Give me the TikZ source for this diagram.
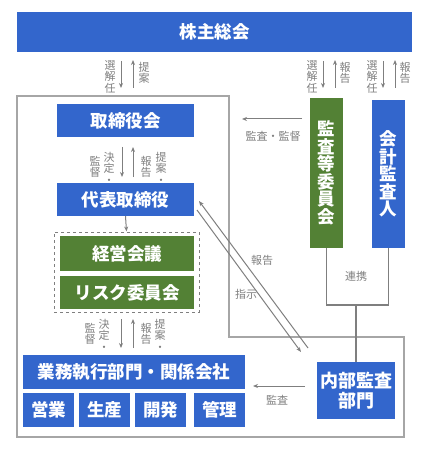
\documentclass[tikz,border=0pt]{standalone}
\usepackage{fontspec}
\setmainfont{Noto Sans CJK JP}
\usetikzlibrary{arrows.meta}
\definecolor{cblue}{HTML}{3366CC}
\definecolor{cgreen}{HTML}{538135}
\definecolor{cline}{HTML}{A6A6A6}
\definecolor{carrow}{HTML}{7F7F7F}
\definecolor{clabel}{HTML}{7F7F7F}
\begin{document}
\begin{tikzpicture}[x=1pt,y=-1pt,
 box/.style={draw=none, inner sep=0pt, text=white, font=\fontsize{17.5}{17.5}\selectfont\bfseries, align=center},
 bluebox/.style={box, fill=cblue},
 greenbox/.style={box, fill=cgreen},
 lbl/.style={inner sep=0pt, text=clabel, font=\fontsize{11}{11.5}\selectfont, align=center},
 arr/.style={draw=carrow, line width=1pt, -{Stealth[length=5pt,width=4pt]}},
 frame/.style={draw=cline, line width=1.2pt},
 link/.style={draw=carrow, line width=1.5pt}
]
\useasboundingbox (0,0) rectangle (435,449);

% outer frame
\draw[frame] (17,96) -- (229,96) -- (229,337) -- (404,337) -- (404,437) -- (17,437) -- cycle;

% boxes
\node[bluebox, minimum width=395pt, minimum height=40pt] (kabu) at (214.5,32) {株主総会};
\node[bluebox, minimum width=137pt, minimum height=33pt] (tori) at (125.5,120.5) {取締役会};
\node[bluebox, minimum width=137pt, minimum height=33pt] (daihyo) at (125.5,199.5) {代表取締役};
\node[draw=carrow, dashed, line width=1pt, minimum width=145pt, minimum height=80pt, inner sep=0pt] (grp) at (126.5,272) {};
\node[greenbox, minimum width=134pt, minimum height=35pt] (keiei) at (127,253.5) {経営会議};
\node[greenbox, minimum width=134pt, minimum height=33pt] (risk) at (127,292.5) {リスク委員会};
\node[bluebox, minimum width=222pt, minimum height=34pt] (gyomu) at (134,372) {業務執行部門・関係会社};
\node[bluebox, minimum width=51pt, minimum height=34pt] (eigyo) at (48.5,410) {営業};
\node[bluebox, minimum width=51pt, minimum height=34pt] (seisan) at (104.5,410) {生産};
\node[bluebox, minimum width=51pt, minimum height=34pt] (kaihatsu) at (160.5,410) {開発};
\node[bluebox, minimum width=51pt, minimum height=34pt] (kanri) at (219.5,410) {管理};
\node[bluebox, minimum width=78pt, minimum height=57pt, font=\fontsize{18}{20}\selectfont\bfseries] (naibu) at (356,390.5) {内部監査\\部門};
\node[greenbox, minimum width=33pt, minimum height=150pt] (kansa) at (326.5,173) {監\\査\\等\\委\\員\\会};
\node[bluebox, minimum width=33pt, minimum height=148pt] (kaikei) at (388.5,174) {会\\計\\監\\査\\人};

% top arrows
\draw[arr] (121,61) -- (121,88);
\draw[arr] (133,88) -- (133,60);
\node[lbl, anchor=north] (l1) at (110,60) {選\\解\\任};
\node[lbl, anchor=north] (l2) at (144,62) {提\\案};
\draw[arr] (323,61) -- (323,88);
\draw[arr] (335,88) -- (335,60);
\node[lbl, anchor=north] (l3) at (312,60) {選\\解\\任};
\node[lbl, anchor=north] (l4) at (345,62) {報\\告};
\draw[arr] (383,61) -- (383,88);
\draw[arr] (395,88) -- (395,60);
\node[lbl, anchor=north] (l5) at (372,60) {選\\解\\任};
\node[lbl, anchor=north] (l6) at (405,62) {報\\告};

% tori <-> daihyo
\draw[arr] (122,147) -- (122,177);
\draw[arr] (133,177) -- (133,147);
\node[lbl, anchor=north] (m1) at (109,152) {決\\定\\・};
\node[lbl, anchor=north] (m2) at (95,156) {監\\督};
\node[lbl, anchor=north] (m3) at (161,152) {提\\案\\・};
\node[lbl, anchor=north] (m4) at (146,156) {報\\告};

% daihyo -> group
\draw[arr] (daihyo.south) -- (grp.north);

% group <-> gyomu
\draw[arr] (121,319) -- (121,348);
\draw[arr] (133,348) -- (133,319);
\node[lbl, anchor=north] (n1) at (104,319) {決\\定\\・};
\node[lbl, anchor=north] (n2) at (90,323) {監\\督};
\node[lbl, anchor=north] (n3) at (160,319) {提\\案\\・};
\node[lbl, anchor=north] (n4) at (146,323) {報\\告};

% kansa -> board
\draw[arr] (302,119) -- (242,119);
\node[lbl] (k1) at (273,136) {監査・監督};

% diagonal
\draw[arr] (308,348) -- (199,201);
\draw[arr] (197,210) -- (301,352);
\node[lbl] (d1) at (262,260) {報告};
\node[lbl] (d2) at (246,294) {指示};

% renkei
\coordinate (rl) at (326.5,305);
\coordinate (rr) at (388.5,305);
\coordinate (rm) at (356,305);
\draw[link] (kansa.south) -- (rl) -- (rr) -- (kaikei.south);
\draw[link] (rm) -- (naibu.north);
\node[lbl] (r1) at (356,276) {連携};

% naibu -> gyomu
\draw[arr] (305,386) -- (253,386);
\node[lbl] (a1) at (277,400) {監査};
\end{tikzpicture}
\end{document}
